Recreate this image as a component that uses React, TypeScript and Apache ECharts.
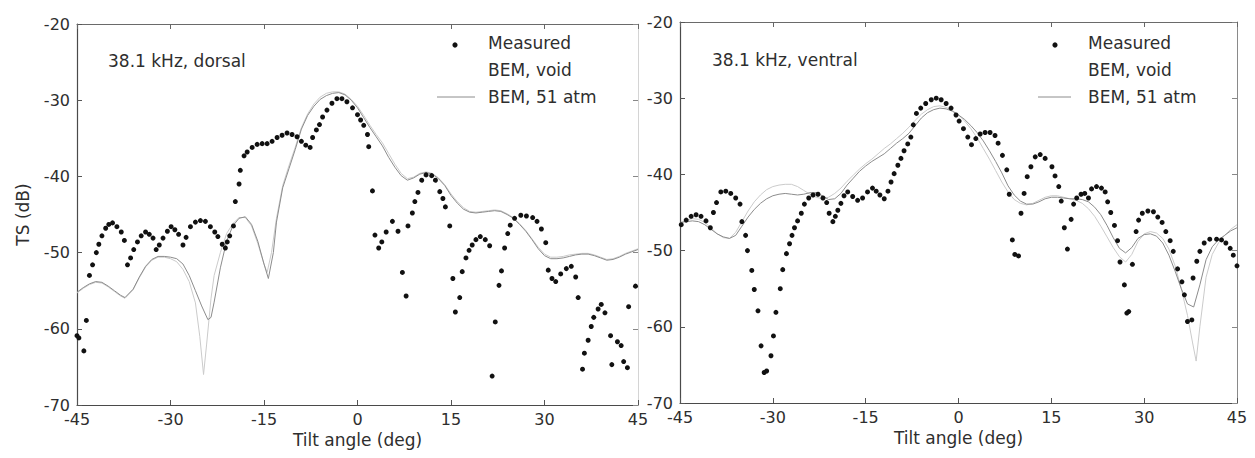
import React, { useEffect, useRef } from "react";
import * as echarts from "echarts";

// ---------- data ----------
const tiltTicks = [-45, -30, -15, 0, 15, 30, 45];

const dorsalMeasured: [number, number][] = [
  [-45.0, -60.9], [-44.7, -61.2], [-43.9, -62.9], [-43.5, -58.9], [-43.0, -53.0], [-42.5, -51.6],
  [-41.9, -50.0], [-41.5, -48.9], [-41.0, -47.8], [-40.4, -46.8], [-39.9, -46.3], [-39.3, -46.1],
  [-38.6, -46.6], [-37.9, -47.3], [-37.4, -48.4], [-36.9, -51.6], [-36.4, -50.7], [-35.9, -49.6],
  [-35.3, -48.6], [-34.7, -47.8], [-34.0, -47.3], [-33.4, -47.6], [-32.8, -48.1], [-32.3, -49.6],
  [-31.8, -49.0], [-31.2, -48.1], [-30.5, -47.2], [-29.9, -46.6], [-29.3, -47.0], [-28.7, -47.6],
  [-28.0, -49.0], [-27.5, -48.0], [-26.8, -46.6], [-26.0, -46.0], [-25.2, -45.8], [-24.4, -45.9],
  [-23.6, -46.6], [-22.9, -47.3], [-22.4, -47.9], [-21.7, -48.9], [-21.2, -49.4], [-20.9, -48.6],
  [-20.5, -47.8], [-19.9, -46.5], [-19.6, -43.3], [-19.0, -41.0], [-18.8, -39.2], [-18.2, -37.3],
  [-17.7, -36.8], [-16.9, -36.2], [-16.1, -35.8], [-15.3, -35.7], [-14.5, -35.7], [-13.7, -35.4],
  [-12.9, -34.9], [-12.1, -34.6], [-11.3, -34.3], [-10.5, -34.5], [-9.7, -34.8], [-9.0, -35.4],
  [-8.3, -35.9], [-7.6, -36.2], [-7.2, -34.9], [-6.6, -33.9], [-6.1, -33.2], [-5.6, -32.2],
  [-4.9, -31.3], [-4.1, -30.4], [-3.3, -29.8], [-2.5, -29.8], [-1.7, -30.2], [-0.8, -31.0],
  [0.0, -31.9], [0.5, -32.6], [1.0, -33.3], [1.6, -34.5], [1.8, -36.1], [2.4, -41.9],
  [2.8, -47.7], [3.4, -49.4], [3.9, -48.6], [4.6, -47.3], [5.6, -45.9], [6.5, -47.2],
  [7.2, -52.6], [7.8, -55.7], [8.1, -46.5], [8.8, -44.8], [9.2, -43.3], [9.7, -42.1],
  [10.3, -40.5], [11.0, -39.8], [11.9, -39.9], [12.5, -40.5], [13.2, -42.0], [13.7, -42.9],
  [14.1, -44.0], [14.8, -46.5], [15.3, -53.4], [15.7, -57.8], [16.4, -55.9], [16.8, -52.5],
  [17.4, -50.7], [17.9, -49.7], [18.4, -49.0], [19.0, -48.3], [19.7, -47.9], [20.5, -48.3],
  [21.2, -49.1], [21.6, -66.2], [22.1, -59.1], [22.7, -54.3], [23.1, -52.4], [23.6, -49.4],
  [24.1, -47.5], [24.5, -46.4], [25.2, -45.5], [26.2, -45.1], [27.1, -45.2], [28.1, -45.4],
  [28.8, -45.9], [29.5, -46.9], [30.2, -48.7], [30.6, -52.3], [31.2, -53.4], [31.8, -53.8],
  [32.6, -52.8], [33.5, -52.1], [34.3, -51.8], [35.0, -53.2], [35.4, -55.9], [36.1, -65.3],
  [36.4, -63.2], [37.0, -61.5], [37.5, -59.7], [37.9, -58.5], [38.6, -57.4], [39.1, -56.8],
  [39.7, -57.9], [40.6, -60.9], [40.8, -64.7], [41.7, -61.7], [42.3, -62.2], [42.7, -64.3],
  [43.3, -65.1], [43.5, -57.1], [44.6, -54.4],
];

const dorsalVoid: [number, number][] = [
  [-45, -55.3], [-44, -54.7], [-43, -54.2], [-42, -53.9], [-41, -54.0], [-40, -54.5], [-39, -55.1],
  [-38, -55.7], [-37.3, -56.0], [-36, -54.9], [-35, -53.3], [-34, -51.9], [-33, -51.0], [-32, -50.6],
  [-31, -50.6], [-30, -50.8], [-29, -51.2], [-28, -52.2], [-27, -53.8], [-26, -56.6], [-25.3, -61.0],
  [-24.7, -66.0], [-24.2, -62.0], [-23.5, -56.0], [-23, -53.0], [-22, -50.0], [-21, -47.5],
  [-20, -46.2], [-19, -45.4], [-18, -45.4], [-17, -46.5], [-16, -48.8], [-15, -51.5], [-14.5, -52.6],
  [-13.8, -50.0], [-13, -45.5], [-12, -41.2], [-11, -38.6], [-10, -36.2], [-9, -33.6], [-8, -31.8],
  [-7, -30.5], [-6, -29.6], [-5, -29.1], [-4, -28.9], [-3, -28.9], [-2, -29.2], [-1, -29.9],
  [0, -30.8], [1, -32.0], [2, -33.3], [3, -34.5], [4, -35.6], [5, -37.0], [6, -38.4], [7, -39.6],
  [8, -40.3], [9, -40.1], [10, -39.6], [11, -39.4], [12, -39.6], [13, -40.2], [14, -41.1],
  [15, -42.3], [16, -43.3], [17, -44.1], [18, -44.6], [19, -44.7], [20, -44.6], [21, -44.5],
  [22, -44.4], [23, -44.5], [24, -44.9], [25, -45.4], [26, -46.2], [27, -47.1], [28, -48.2],
  [29, -49.3], [30, -50.2], [31, -50.6], [32, -50.6], [33, -50.5], [34, -50.3], [35, -50.2],
  [36, -50.1], [37, -50.1], [38, -50.3], [39, -50.6], [40, -50.9], [41, -50.8], [42, -50.5],
  [43, -50.1], [44, -49.8], [45, -49.5],
];

const dorsalGas: [number, number][] = [
  [-45, -55.2], [-44, -54.6], [-43, -54.1], [-42, -53.8], [-41, -53.9], [-40, -54.4], [-39, -55.0],
  [-38, -55.6], [-37.3, -55.9], [-36, -54.8], [-35, -53.2], [-34, -51.8], [-33, -50.9], [-32, -50.5],
  [-31, -50.5], [-30, -50.6], [-29, -50.8], [-28, -51.5], [-27, -53.0], [-26, -55.0], [-25, -57.0],
  [-24, -58.8], [-23.5, -58.5], [-23, -56.5], [-22, -52.0], [-21, -48.5], [-20, -46.5], [-19, -45.5],
  [-18, -45.3], [-17, -46.3], [-16, -48.5], [-15, -51.5], [-14.3, -53.4], [-13.5, -50.0],
  [-13, -46.0], [-12, -41.5], [-11, -39.0], [-10, -36.5], [-9, -33.8], [-8, -32.0], [-7, -30.8],
  [-6, -29.9], [-5, -29.4], [-4, -29.1], [-3, -29.0], [-2, -29.3], [-1, -30.0], [0, -31.0],
  [1, -32.3], [2, -33.6], [3, -34.8], [4, -36.0], [5, -37.5], [6, -38.8], [7, -39.9], [8, -40.5],
  [9, -40.2], [10, -39.7], [11, -39.5], [12, -39.7], [13, -40.3], [14, -41.2], [15, -42.5],
  [16, -43.5], [17, -44.3], [18, -44.7], [19, -44.8], [20, -44.7], [21, -44.6], [22, -44.5],
  [23, -44.6], [24, -45.0], [25, -45.5], [26, -46.3], [27, -47.2], [28, -48.3], [29, -49.5],
  [30, -50.4], [31, -50.8], [32, -50.8], [33, -50.7], [34, -50.5], [35, -50.3], [36, -50.2],
  [37, -50.2], [38, -50.4], [39, -50.7], [40, -51.0], [41, -50.9], [42, -50.6], [43, -50.2],
  [44, -49.9], [45, -49.6],
];

const ventralMeasured: [number, number][] = [
  [-44.8, -46.6], [-44.0, -46.0], [-43.2, -45.5], [-42.4, -45.3], [-41.6, -45.5], [-40.8, -46.1],
  [-40.1, -47.0], [-39.6, -45.0], [-39.1, -43.7], [-38.4, -42.3], [-37.6, -42.2], [-36.8, -42.5],
  [-36.0, -43.1], [-35.3, -43.9], [-35.0, -46.2], [-34.4, -48.0], [-34.1, -50.0], [-33.4, -52.6],
  [-33.0, -55.1], [-32.4, -57.9], [-31.9, -62.5], [-31.4, -66.0], [-31.0, -65.8], [-30.3, -63.8],
  [-29.9, -61.2], [-29.5, -58.1], [-28.8, -55.0], [-28.4, -52.5], [-27.8, -50.4], [-27.3, -49.1],
  [-26.9, -48.0], [-26.5, -47.0], [-26.0, -46.1], [-25.4, -45.1], [-24.9, -43.9], [-24.2, -43.1],
  [-23.5, -42.7], [-22.7, -42.6], [-21.9, -43.1], [-21.3, -43.7], [-20.9, -45.1], [-20.3, -46.2],
  [-19.9, -45.5], [-19.5, -44.7], [-19.0, -43.8], [-18.5, -42.8], [-17.9, -42.3], [-17.1, -42.9],
  [-16.3, -43.4], [-15.5, -43.1], [-14.7, -42.3], [-13.9, -41.8], [-13.3, -42.2], [-12.7, -42.7],
  [-12.0, -43.2], [-11.4, -42.2], [-10.9, -41.0], [-10.4, -39.9], [-9.8, -38.8], [-9.3, -37.9],
  [-8.8, -36.9], [-8.2, -36.0], [-7.7, -35.1], [-7.3, -33.5], [-6.8, -32.0], [-6.1, -31.3],
  [-5.3, -30.7], [-4.4, -30.2], [-3.6, -30.0], [-2.8, -30.2], [-2.0, -30.7], [-1.2, -31.3],
  [-0.4, -32.2], [0.1, -33.0], [0.8, -34.0], [1.5, -35.1], [2.1, -36.1], [2.8, -35.3],
  [3.5, -34.7], [4.3, -34.5], [5.1, -34.5], [5.9, -34.9], [6.4, -35.9], [7.1, -37.5],
  [7.8, -39.4], [8.2, -42.6], [8.7, -48.6], [9.1, -50.5], [9.7, -50.7], [10.1, -45.1],
  [10.6, -42.5], [11.1, -40.3], [11.7, -39.0], [12.4, -37.7], [13.2, -37.4], [14.0, -37.9],
  [15.1, -39.0], [15.6, -40.2], [16.2, -41.6], [16.6, -43.5], [17.1, -47.0], [17.6, -49.8],
  [18.2, -45.9], [18.6, -43.9], [19.1, -43.1], [19.8, -42.6], [20.4, -42.5], [21.0, -43.1],
  [21.5, -41.9], [22.3, -41.6], [23.1, -41.8], [23.7, -42.3], [24.1, -43.6], [24.6, -45.0],
  [25.2, -46.7], [25.7, -48.7], [26.1, -51.5], [26.8, -54.5], [27.2, -58.2], [27.5, -58.0],
  [28.1, -51.8], [28.7, -47.5], [29.1, -46.0], [29.7, -45.1], [30.6, -44.8], [31.5, -44.9],
  [32.2, -45.6], [32.9, -46.3], [33.5, -47.5], [34.2, -48.7], [34.7, -50.1], [35.4, -52.4],
  [36.1, -54.1], [36.5, -55.8], [37.0, -59.3], [37.7, -59.1], [37.9, -53.6], [38.5, -51.4],
  [39.0, -50.1], [39.7, -49.0], [40.6, -48.5], [41.7, -48.5], [42.5, -48.6], [43.2, -49.0],
  [43.9, -49.7], [44.4, -50.6], [45.0, -52.0],
];

const ventralVoid: [number, number][] = [
  [-45, -46.5], [-44, -46.0], [-43, -45.8], [-42, -45.9], [-41, -46.3], [-40, -47.0], [-39, -47.8],
  [-38, -48.3], [-37, -48.4], [-36, -47.6], [-35, -46.2], [-34, -44.8], [-33, -43.6], [-32, -42.7],
  [-31, -42.0], [-30, -41.6], [-29, -41.4], [-28, -41.3], [-27, -41.3], [-26, -41.6], [-25, -42.1],
  [-24, -42.6], [-23, -43.0], [-22, -43.2], [-21, -43.0], [-20, -42.5], [-19, -41.8], [-18, -40.9],
  [-17, -40.1], [-16, -39.3], [-15, -38.6], [-14, -38.0], [-13, -37.3], [-12, -36.6], [-11, -36.0],
  [-10, -35.3], [-9, -34.6], [-8, -33.8], [-7, -32.9], [-6, -32.1], [-5, -31.5], [-4, -31.1],
  [-3, -31.0], [-2, -31.2], [-1, -31.6], [0, -32.2], [1, -33.0], [2, -34.0], [3, -35.2], [4, -36.6],
  [5, -38.0], [6, -39.5], [7, -41.0], [8, -42.3], [9, -43.3], [10, -43.8], [11, -44.0], [12, -43.8],
  [13, -43.4], [14, -43.0], [15, -42.8], [16, -42.8], [17, -43.0], [18, -43.2], [19, -43.4],
  [20, -43.8], [21, -44.5], [22, -45.5], [23, -46.8], [24, -48.2], [25, -49.6], [26, -50.8],
  [27, -51.5], [28, -50.5], [29, -48.8], [30, -47.8], [31, -47.5], [32, -47.7], [33, -48.4],
  [34, -49.8], [35, -52.0], [36, -55.0], [37, -58.5], [37.8, -62.0], [38.4, -64.5], [39, -60.0],
  [40, -53.5], [41, -50.5], [42, -49.0], [43, -48.0], [44, -47.2], [45, -46.6],
];

const ventralGas: [number, number][] = [
  [-45, -46.3], [-44, -46.2], [-43, -46.1], [-42, -46.2], [-41, -46.6], [-40, -47.2], [-39, -47.8],
  [-38, -48.2], [-37, -48.4], [-36, -48.0], [-35, -46.8], [-34, -45.6], [-33, -44.6], [-32, -43.8],
  [-31, -43.2], [-30, -42.8], [-29, -42.6], [-28, -42.5], [-27, -42.6], [-26, -42.7], [-25, -42.6],
  [-24, -42.4], [-23, -42.4], [-22, -42.8], [-21, -43.3], [-20, -43.2], [-19, -42.5], [-18, -41.4],
  [-17, -40.5], [-16, -39.6], [-15, -38.9], [-14, -38.3], [-13, -37.8], [-12, -37.3], [-11, -36.6],
  [-10, -35.9], [-9, -35.3], [-8, -34.6], [-7, -33.6], [-6, -32.6], [-5, -31.9], [-4, -31.5],
  [-3, -31.3], [-2, -31.4], [-1, -31.7], [0, -32.2], [1, -32.8], [2, -33.6], [3, -34.5], [4, -35.6],
  [5, -36.9], [6, -38.3], [7, -39.8], [8, -41.5], [9, -42.7], [10, -43.5], [11, -43.9], [12, -43.9],
  [13, -43.6], [14, -43.2], [15, -43.0], [16, -43.0], [17, -43.1], [18, -43.2], [19, -43.2],
  [20, -43.3], [21, -43.6], [22, -44.3], [23, -45.3], [24, -46.7], [25, -48.3], [26, -49.7],
  [27, -50.3], [28, -49.6], [29, -48.4], [30, -47.9], [31, -47.8], [32, -48.1], [33, -49.0],
  [34, -50.6], [35, -52.7], [36, -55.0], [37, -57.0], [38, -57.4], [39, -54.5], [40, -51.2],
  [41, -49.5], [42, -48.6], [43, -48.0], [44, -47.4], [45, -47.0],
];

const panelTitles = ["38.1 kHz, dorsal", "38.1 kHz, ventral"];
const legendNames = ["Measured", "BEM, void", "BEM, 51 atm"];

// ---------- styles ----------
const FONT = "'DejaVu Sans', 'Liberation Sans', Arial, sans-serif";
const TEXT = "#2e2e2e";
const DOT = "#111111";
const VOID_C = "#cbcbcb";
const GAS_C = "#8c8c8c";

function bottomAxis(gridIndex: number) {
  return {
    type: "value",
    gridIndex,
    position: "bottom",
    min: tiltTicks[0],
    max: tiltTicks[tiltTicks.length - 1],
    interval: 15,
    name: "Tilt angle (deg)",
    nameLocation: "middle",
    nameGap: 22,
    nameTextStyle: { fontFamily: FONT, fontSize: 17, color: TEXT },
    axisLine: { show: true, onZero: false, lineStyle: { color: "#4a4a4a", width: 1.2 } },
    axisTick: { show: true, inside: true, length: 5, lineStyle: { color: "#555" } },
    axisLabel: { show: true, margin: 6, fontFamily: FONT, fontSize: 16, color: TEXT, showMinLabel: true, showMaxLabel: true },
    splitLine: { show: false },
  } as any;
}
function topAxis(gridIndex: number) {
  return {
    type: "value",
    gridIndex,
    position: "top",
    min: tiltTicks[0],
    max: tiltTicks[tiltTicks.length - 1],
    interval: 15,
    axisLine: { show: true, onZero: false, lineStyle: { color: "#6a6a6a", width: 1 } },
    axisTick: { show: true, inside: true, length: 5, lineStyle: { color: "#666" } },
    axisLabel: { show: false },
    splitLine: { show: false },
  } as any;
}
function leftAxis(gridIndex: number, withName: boolean) {
  return {
    type: "value",
    gridIndex,
    position: "left",
    min: -70,
    max: -20,
    interval: 10,
    name: withName ? "TS (dB)" : "",
    nameLocation: "middle",
    nameGap: 46,
    nameTextStyle: { fontFamily: FONT, fontSize: 17, color: TEXT },
    axisLine: { show: true, onZero: false, lineStyle: { color: "#4a4a4a", width: 1.2 } },
    axisTick: { show: true, inside: true, length: 5, lineStyle: { color: "#555" } },
    axisLabel: { show: true, margin: 7, fontFamily: FONT, fontSize: 16, color: TEXT },
    splitLine: { show: false },
  } as any;
}
function rightAxis(gridIndex: number, color: string) {
  return {
    type: "value",
    gridIndex,
    position: "right",
    min: -70,
    max: -20,
    interval: 10,
    axisLine: { show: true, onZero: false, lineStyle: { color, width: 1 } },
    axisTick: { show: true, inside: true, length: 5, lineStyle: { color: "#888" } },
    axisLabel: { show: false },
    splitLine: { show: false },
  } as any;
}

function legendGraphics(dotX: number, textX: number, lineX1: number, lineX2: number, y0: number) {
  const gap = 27;
  return [
    { type: "circle", shape: { cx: dotX, cy: y0 + 2, r: 2.6 }, style: { fill: DOT } },
    { type: "line", shape: { x1: lineX1, y1: y0 + 2 * gap, x2: lineX2, y2: y0 + 2 * gap }, style: { stroke: GAS_C, lineWidth: 1 } },
    ...legendNames.map((n, i) => ({
      type: "text",
      x: textX,
      y: y0 + i * gap,
      style: { text: n, font: `17px ${FONT}`, fill: TEXT, textAlign: "left", textVerticalAlign: "middle" },
    })),
  ];
}

export default function App() {
  const ref = useRef<HTMLDivElement>(null);

  useEffect(() => {
    if (!ref.current) return;
    const chart = echarts.init(ref.current, undefined, { renderer: "svg" });
    const option: any = {
      animation: false,
      backgroundColor: "#ffffff",
      grid: [
        { left: 77, top: 24, width: 561, height: 381, containLabel: false },
        { left: 680, top: 22, width: 557, height: 381, containLabel: false },
      ],
      xAxis: [bottomAxis(0), topAxis(0), bottomAxis(1), topAxis(1)],
      yAxis: [leftAxis(0, true), rightAxis(0, "#d4d4d4"), leftAxis(1, false), rightAxis(1, "#8a8a8a")],
      series: [
        { name: legendNames[1], type: "line", xAxisIndex: 0, yAxisIndex: 0, data: dorsalVoid, symbol: "none", lineStyle: { color: VOID_C, width: 1 }, z: 2 },
        { name: legendNames[2], type: "line", xAxisIndex: 0, yAxisIndex: 0, data: dorsalGas, symbol: "none", lineStyle: { color: GAS_C, width: 1 }, z: 3 },
        { name: legendNames[0], type: "scatter", xAxisIndex: 0, yAxisIndex: 0, data: dorsalMeasured, symbol: "circle", symbolSize: 5, itemStyle: { color: DOT, opacity: 1 }, z: 4 },
        { name: legendNames[1], type: "line", xAxisIndex: 2, yAxisIndex: 2, data: ventralVoid, symbol: "none", lineStyle: { color: VOID_C, width: 1 }, z: 2 },
        { name: legendNames[2], type: "line", xAxisIndex: 2, yAxisIndex: 2, data: ventralGas, symbol: "none", lineStyle: { color: GAS_C, width: 1 }, z: 3 },
        { name: legendNames[0], type: "scatter", xAxisIndex: 2, yAxisIndex: 2, data: ventralMeasured, symbol: "circle", symbolSize: 5, itemStyle: { color: DOT, opacity: 1 }, z: 4 },
      ],
      graphic: [
        { type: "text", x: 108, y: 61, style: { text: panelTitles[0], font: `17px ${FONT}`, fill: TEXT, textAlign: "left", textVerticalAlign: "middle" } },
        { type: "text", x: 712, y: 60, style: { text: panelTitles[1], font: `17px ${FONT}`, fill: TEXT, textAlign: "left", textVerticalAlign: "middle" } },
        ...legendGraphics(455, 488, 437, 475, 43),
        ...legendGraphics(1055, 1088, 1038, 1071, 43),
      ],
    };
    chart.setOption(option);
    return () => chart.dispose();
  }, []);

  return (
    <div
      ref={ref}
      style={{ position: "absolute", left: 0, top: 0, width: 1255, height: 458, background: "#fff" }}
    />
  );
}
